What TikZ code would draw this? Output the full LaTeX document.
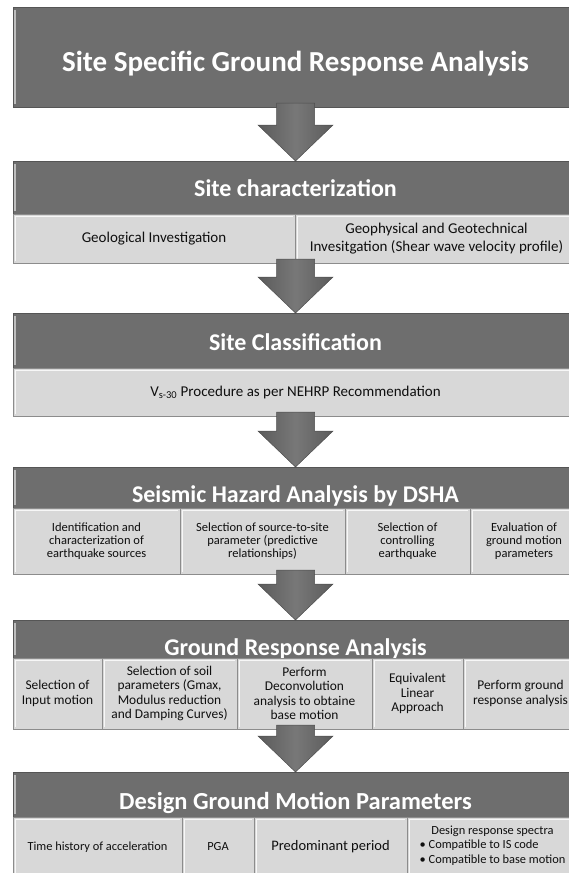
\documentclass[tikz,border=0pt]{standalone}
\usepackage{fontspec}
\setmainfont{Carlito}
\usetikzlibrary{calc, positioning}

\definecolor{hdgray}{RGB}{110,110,110}
\definecolor{hdedge}{RGB}{85,85,85}
\definecolor{subgray}{RGB}{216,216,216}
\definecolor{subedge}{RGB}{140,140,140}
\definecolor{arrgray}{RGB}{96,96,96}
\definecolor{txtgray}{RGB}{15,15,15}

\tikzset{
  headbox/.style={draw=hdedge, fill=hdgray, text=white, inner sep=0pt, outer sep=0pt,
    anchor=north west, minimum width=565pt, line width=0.6pt, text depth=0pt,
    path picture={\draw[white!55!hdgray, line width=1.2pt]
      ([shift={(2pt,-3pt)}]path picture bounding box.north west) --
      ([shift={(2pt,3pt)}]path picture bounding box.south west);}},
  subbox/.style={draw=subedge, fill=subgray, text=txtgray, inner sep=1pt, outer sep=0pt,
    anchor=north west, align=center, line width=0.6pt,
    path picture={\draw[white!80!subgray, line width=1pt]
      ([shift={(2.5pt,2.5pt)}]path picture bounding box.south west) --
      ([shift={(2.5pt,-2.5pt)}]path picture bounding box.north west) --
      ([shift={(-2.5pt,-2.5pt)}]path picture bounding box.north east);}},
  blkarrow/.style={draw=arrgray!80!black, line width=0.5pt,
    left color=arrgray!95!black, right color=arrgray!95!black, middle color=arrgray!85!white},
  titlefont/.style={font=\bfseries\fontsize{29}{33}\selectfont},
  hdfont/.style={font=\bfseries\fontsize{24}{28}\selectfont},
  bigfont/.style={font=\fontsize{15}{18}\selectfont},
  shafont/.style={font=\fontsize{12.5}{13}\selectfont},
  grafont/.style={font=\fontsize{13.4}{14.5}\selectfont},
  dgmfont/.style={font=\fontsize{12.4}{16}\selectfont},
}

% block arrow from the bottom row of one stage to the header of the next
\newcommand{\blockarrow}[2]{%
  \path[blkarrow] ($(#1.south -| #2.north)+(-19,-4)$) -- ($(#2.north)+(-19,-36)$)
    -- ($(#2.north)+(-37.5,-36)$) -- (#2.north) -- ($(#2.north)+(37.5,-36)$)
    -- ($(#2.north)+(19,-36)$) -- ($(#1.south -| #2.north)+(19,-4)$) -- cycle;
}

\begin{document}
\begin{tikzpicture}[x=1pt, y=-1pt]
  \clip (0,0) rectangle (569,873);

  % title
  \node[headbox, titlefont, minimum height=100pt, text height=28pt] (title) at (13,7)
    {Site Specific Ground Response Analysis};

  % site characterization
  \node[headbox, hdfont, minimum height=53pt, text height=18pt] (char) at (13,161)
    {Site characterization};
  \foreach \nm/\xa/\xb/\txt in {geol/13/295/{Geological Investigation},
      geoph/295/578/{Geophysical and Geotechnical\\Invesitgation (Shear wave velocity profile)}}
    \node[subbox, bigfont, minimum width={(\xb-\xa)*1pt}, minimum height=49pt] (\nm) at (\xa,214) {\txt};

  % site classification
  \node[headbox, hdfont, minimum height=55pt, text height=19pt] (class) at (13,313)
    {Site Classification};
  \node[subbox, bigfont, minimum width=565pt, minimum height=48pt] (vs) at (13,368)
    {V\textsubscript{s-30} Procedure as per NEHRP Recommendation};

  % seismic hazard analysis
  \node[headbox, hdfont, minimum height=41pt, text height=29pt] (sha) at (13,467)
    {Seismic Hazard Analysis by DSHA};
  \foreach \nm/\xa/\xb/\txt in {src/13/180/{Identification and\\characterization of\\earthquake sources},
      gmpe/180/345/{Selection of source-to-site\\parameter (predictive\\relationships)},
      ctrl/345/470/{Selection of\\controlling\\earthquake},
      eval/470/578/{Evaluation of\\ground motion\\parameters}}
    \node[subbox, shafont, minimum width={(\xb-\xa)*1pt}, minimum height=66pt] (\nm) at (\xa,508) {\txt};

  % ground response analysis
  \node[headbox, hdfont, minimum height=38pt, text height=32pt] (gra) at (13,620)
    {Ground Response Analysis};
  \foreach \nm/\xa/\xb/\txt in {inmo/13/102/{Selection of\\Input motion},
      soil/102/237/{Selection of soil\\parameters (Gmax,\\Modulus reduction\\and Damping Curves)},
      deco/237/372/{Perform\\Deconvolution\\analysis to obtaine\\base motion},
      eqlin/372/463/{Equivalent\\Linear\\Approach},
      perf/463/578/{Perform ground\\response analysis}}
    \node[subbox, grafont, minimum width={(\xb-\xa)*1pt}, minimum height=71pt] (\nm) at (\xa,658) {\txt};

  % design ground motion parameters
  \node[headbox, font=\bfseries\fontsize{24.5}{28}\selectfont, minimum height=45pt, text height=29.5pt] (dgm) at (13,772)
    {Design Ground Motion Parameters};
  \foreach \nm/\xa/\xb/\txt in {thist/13/182/{Time history of acceleration},
      pga/182/254/{PGA}}
    \node[subbox, dgmfont, minimum width={(\xb-\xa)*1pt}, minimum height=60pt] (\nm) at (\xa,817) {\txt};
  \node[subbox, font=\fontsize{14.5}{17}\selectfont, minimum width=153pt, minimum height=60pt] (predp) at (254,817)
    {Predominant period};
  \node[subbox, dgmfont, minimum width=171pt, minimum height=60pt] (drs) at (407,817)
    {Design response spectra\\[-1pt]
     \begin{tabular}{@{}l@{}}\textbullet{} Compatible to IS code\\[-1pt]
       \textbullet{} Compatible to base motion\end{tabular}};

  % arrows between stages
  \blockarrow{title}{char}
  \blockarrow{geol}{class}
  \blockarrow{vs}{sha}
  \blockarrow{src}{gra}
  \blockarrow{inmo}{dgm}
\end{tikzpicture}
\end{document}
